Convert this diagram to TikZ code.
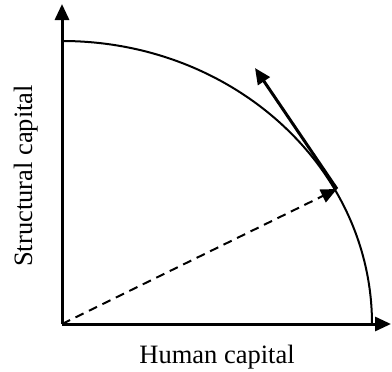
\documentclass[tikz,border=0pt]{standalone}
\usepackage{fontspec}
\setmainfont{Liberation Serif}
\usetikzlibrary{arrows.meta}
\begin{document}
\begin{tikzpicture}[x=1pt,y=-1pt,
  axis/.style={line width=3pt,-{Triangle[length=16pt,width=14pt]}},
  vec/.style={line width=3pt,-{Triangle[length=16pt,width=14pt]}},
  dvec/.style={line width=2pt,dash pattern=on 9pt off 6pt,-{Triangle[length=16pt,width=14pt]}},
  lbl/.style={font=\fontsize{26.5}{31}\selectfont,inner sep=0pt}]
\useasboundingbox (0,0) rectangle (392,372);
\coordinate (O) at (62,324);
\coordinate (ytop) at (62,4);
\coordinate (xend) at (391,324);
\coordinate (P) at (337,189);
\coordinate (Q) at (255,68);
\draw[line width=2pt] (62,41) arc[start angle=90,end angle=0,x radius=310,y radius=-283];
\draw[axis] (O) -- (ytop);
\draw[axis] (O) -- (xend);
\draw[dvec] (O) -- (P);
\draw[vec] (P) -- (Q);
\node[lbl,anchor=base] (hc) at (217,363) {Human capital};
\node[lbl,rotate=90,anchor=base] (sc) at (32,176) {Structural capital};
\end{tikzpicture}
\end{document}
